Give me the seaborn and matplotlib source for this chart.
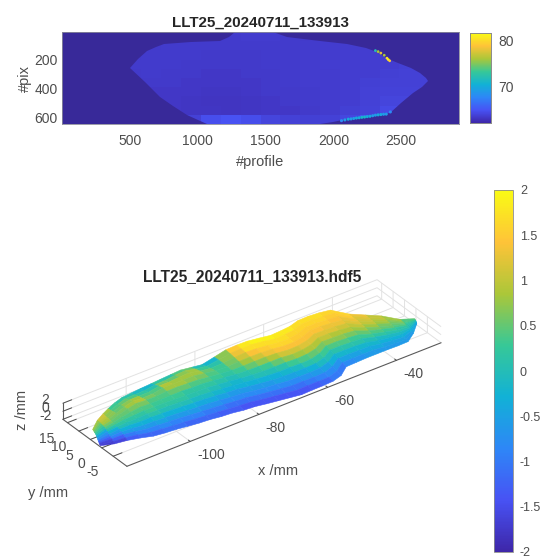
import numpy as np
import matplotlib
matplotlib.use("Agg")
import matplotlib.pyplot as plt
from matplotlib.colors import LinearSegmentedColormap, Normalize
from matplotlib.cm import ScalarMappable
from matplotlib.patches import Polygon
import seaborn as sns

# ---- top image: map of intensity against profile and pixel ----
title_top = "LLT25_20240711_133913"
title_3d = "LLT25_20240711_133913.hdf5"
profile_max = 2926
pix_max = 633
profile_ticks = [500, 1000, 1500, 2000, 2500]
pix_ticks = [200, 400, 600]
map_ticks = [70, 80]
map_range = [62.3, 81.5]
outline_profile = [500, 560, 627, 690, 750, 950, 1166, 1230, 1276, 1558, 1656, 1900, 2100, 2244, 2320, 2390,
                   2480, 2575, 2640, 2685, 2697, 2650, 2587, 2500, 2416, 2300, 2195, 2100, 1999, 1901,
                   1068, 1000, 921, 820, 725, 610]
outline_pix = [247, 185, 130, 105, 84, 72, 60, 32, 1, 1, 37, 60, 85, 107, 135, 177,
               210, 247, 285, 316, 340, 375, 421, 490, 560, 572, 584, 600, 618, 633,
               633, 605, 572, 510, 444, 345]
map_values = [
    [63.4, 63.4, 63.4, 63.4, 63.4, 63.4, 63.4, 63.5, 63.6, 63.7, 63.7, 63.6, 63.5, 63.5, 63.5, 63.5, 63.5, 63.5, 63.5, 63.5],
    [63.4, 63.4, 63.4, 63.4, 63.5, 63.6, 63.6, 63.6, 63.6, 63.6, 63.6, 63.6, 63.6, 63.7, 63.7, 63.7, 63.8, 63.8, 63.7, 63.5],
    [63.4, 63.4, 63.5, 63.5, 63.6, 63.6, 63.6, 63.5, 63.5, 63.5, 63.6, 63.6, 63.7, 63.7, 63.8, 63.8, 63.8, 63.8, 63.8, 63.5],
    [63.4, 63.4, 63.5, 63.6, 63.6, 63.6, 63.5, 63.5, 63.5, 63.5, 63.6, 63.6, 63.7, 63.8, 63.8, 63.8, 63.8, 63.9, 63.8, 63.5],
    [63.4, 63.4, 63.5, 63.5, 63.6, 63.5, 63.5, 63.4, 63.4, 63.5, 63.5, 63.6, 63.7, 63.7, 63.8, 63.8, 63.9, 64.0, 64.0, 63.5],
    [63.4, 63.4, 63.4, 63.5, 63.5, 63.5, 63.4, 63.4, 63.4, 63.4, 63.5, 63.6, 63.7, 63.7, 63.8, 63.9, 64.0, 64.0, 64.0, 63.5],
    [63.4, 63.4, 63.4, 63.4, 63.4, 63.4, 63.4, 63.3, 63.3, 63.4, 63.5, 63.5, 63.6, 63.7, 63.8, 64.0, 64.1, 64.1, 64.0, 63.5],
    [63.4, 63.4, 63.4, 63.4, 63.4, 63.4, 63.3, 63.2, 63.2, 63.3, 63.4, 63.5, 63.6, 63.7, 63.8, 64.0, 64.2, 64.2, 64.0, 63.5],
    [63.4, 63.4, 63.4, 63.4, 63.4, 63.4, 63.3, 63.3, 63.2, 63.3, 63.4, 63.4, 63.5, 63.7, 63.9, 64.1, 64.5, 65.0, 64.0, 63.5],
    [63.4, 63.4, 63.4, 63.4, 63.4, 63.5, 64.0, 64.8, 65.0, 64.7, 64.2, 64.0, 63.9, 64.0, 64.3, 65.0, 66.0, 66.0, 64.0, 63.5],
]
hot_profile = [2310, 2330, 2350, 2375, 2395, 2405, 2415]
hot_pix = [128, 135, 145, 160, 180, 190, 198]
hot_value = [72, 76, 78, 76, 80, 81, 79]
rim_profile = [2060, 2085, 2110, 2130, 2150, 2170, 2190, 2210, 2230, 2250, 2270, 2290, 2310, 2330, 2350, 2370, 2390, 2420]
rim_pix = [610, 605, 600, 598, 595, 592, 590, 587, 585, 582, 580, 576, 572, 570, 568, 566, 565, 550]
rim_value = [68, 69, 70, 69, 69, 70, 70, 71, 71, 70, 70, 69, 69, 70, 70, 69, 69, 68]

# ---- lower plot: 3-D surface ----
x_lim = [-118.4, -27]
y_lim = [-11, 17]
z_lim = [-2, 2]
x_ticks = [-100, -80, -60, -40]
y_ticks = [-5, 0, 5, 10, 15]
z_ticks = [-2, 0, 2]
bar_ticks = [-2, -1.5, -1, -0.5, 0, 0.5, 1, 1.5, 2]
bar_labels = ["-2", "-1.5", "-1", "-0.5", "0", "0.5", "1", "1.5", "2"]
x_stations = [-118.4, -115.4, -112.4, -109.4, -106.4, -103.4, -100.4, -97.4, -94.4, -91.4, -88.4,
              -85.4, -82.4, -79.4, -76.4, -73.4, -70.4, -67.4, -64.4, -61.4, -58.4, -55.4, -52.4,
              -49.4, -46.4, -43.4, -40.4, -37.4, -34.4, -31.4, -28.4]
y_near = [0.6, -1.0, -2.1, -3.3, -4.6, -5.3, -5.6, -6.0, -6.5, -6.8, -7.2, -7.5, -8.0, -8.3, -9.0,
          -9.6, -10.2, -10.8, -10.8, -10.9, -11.0, -10.0, -7.7, -7.7, -7.7, -7.7, -7.7, -7.8, -7.7,
          -5.5, -2.5]
y_far = [4.0, 6.5, 8.5, 10.8, 12.5, 13.8, 14.3, 14.6, 14.7, 15.0, 15.1, 15.2, 15.1, 14.8, 14.0,
         13.5, 13.2, 13.1, 12.5, 11.8, 12.0, 12.5, 13.5, 13.6, 13.3, 12.8, 9.0, 6.5, 4.0, 0.5, -1.5]
z_surface = [
    [-1.7, -1.6, -1.3, -1.0, -0.7, -0.4, 0.0, 0.2, 0.4, 0.5, 0.7, 0.8, 0.9],
    [-1.6, -1.3, -0.9, -0.6, -0.3, 0.1, 0.4, 0.6, 0.8, 0.9, 1.0, 1.1, 1.1],
    [-1.3, -1.0, -0.6, -0.3, 0.0, 0.2, 0.4, 0.5, 0.6, 0.7, 0.7, 0.8, 0.9],
    [-1.2, -0.9, -0.6, -0.3, 0.0, 0.2, 0.4, 0.5, 0.6, 0.5, 0.4, 0.3, 0.2],
    [-1.2, -0.9, -0.6, -0.3, 0.0, 0.2, 0.4, 0.6, 0.8, 0.7, 0.5, 0.2, -0.1],
    [-1.1, -0.8, -0.5, -0.2, 0.1, 0.3, 0.4, 0.6, 0.9, 0.8, 0.4, 0.1, -0.3],
    [-1.1, -0.9, -0.6, -0.3, 0.0, 0.2, 0.3, 0.4, 0.6, 0.4, 0.2, -0.1, -0.4],
    [-1.2, -0.9, -0.6, -0.3, 0.0, 0.2, 0.3, 0.4, 0.5, 0.4, 0.1, -0.2, -0.4],
    [-1.2, -0.9, -0.6, -0.3, 0.0, 0.2, 0.3, 0.5, 0.8, 0.9, 0.6, 0.2, -0.3],
    [-1.2, -1.0, -0.7, -0.4, -0.1, 0.1, 0.2, 0.5, 0.8, 0.8, 0.5, 0.1, -0.3],
    [-1.3, -1.0, -0.7, -0.4, -0.1, 0.1, 0.2, 0.4, 0.7, 0.8, 0.7, 0.4, -0.2],
    [-1.3, -1.1, -0.8, -0.5, -0.2, 0.0, 0.2, 0.4, 0.6, 0.8, 0.8, 0.5, -0.1],
    [-1.4, -1.1, -0.8, -0.6, -0.3, -0.1, 0.1, 0.3, 0.4, 0.5, 0.3, 0.0, -0.4],
    [-1.4, -1.1, -0.8, -0.6, -0.3, -0.2, 0.0, 0.2, 0.3, 0.3, 0.1, -0.2, -0.6],
    [-1.4, -1.1, -0.8, -0.6, -0.3, -0.1, 0.1, 0.3, 0.5, 0.6, 0.7, 0.7, 0.6],
    [-1.4, -1.1, -0.8, -0.6, -0.3, 0.0, 0.2, 0.5, 0.8, 1.1, 1.3, 1.5, 1.6],
    [-1.4, -1.1, -0.8, -0.5, -0.3, 0.0, 0.3, 0.7, 1.1, 1.4, 1.7, 1.8, 1.9],
    [-1.4, -1.1, -0.8, -0.5, -0.2, 0.1, 0.5, 0.9, 1.3, 1.5, 1.7, 1.9, 1.9],
    [-1.3, -1.0, -0.7, -0.4, -0.1, 0.3, 0.7, 1.1, 1.4, 1.6, 1.7, 1.9, 1.9],
    [-1.2, -0.9, -0.6, -0.3, 0.1, 0.4, 0.8, 1.1, 1.4, 1.6, 1.7, 1.8, 1.9],
    [-1.0, -0.8, -0.5, -0.1, 0.2, 0.5, 0.9, 1.2, 1.4, 1.5, 1.6, 1.8, 1.9],
    [-1.0, -0.7, -0.3, 0.0, 0.3, 0.6, 0.9, 1.2, 1.4, 1.5, 1.6, 1.7, 1.8],
    [-0.8, -0.5, -0.2, 0.1, 0.4, 0.7, 1.0, 1.2, 1.4, 1.5, 1.6, 1.7, 1.8],
    [-0.7, -0.5, -0.2, 0.1, 0.4, 0.7, 0.9, 1.2, 1.3, 1.5, 1.6, 1.7, 1.8],
    [-0.6, -0.4, -0.2, 0.1, 0.3, 0.6, 0.9, 1.1, 1.3, 1.4, 1.5, 1.6, 1.8],
    [-0.6, -0.4, -0.2, 0.0, 0.3, 0.5, 0.8, 1.0, 1.2, 1.3, 1.5, 1.6, 1.7],
    [-0.6, -0.5, -0.3, -0.1, 0.2, 0.4, 0.6, 0.8, 1.0, 1.1, 1.2, 1.3, 1.3],
    [-0.6, -0.5, -0.3, -0.1, 0.1, 0.3, 0.5, 0.6, 0.8, 0.9, 1.0, 1.0, 1.1],
    [-0.6, -0.5, -0.3, -0.1, 0.1, 0.2, 0.4, 0.5, 0.6, 0.7, 0.8, 0.8, 0.9],
    [-0.5, -0.4, -0.3, -0.1, 0.0, 0.1, 0.2, 0.3, 0.4, 0.4, 0.4, 0.5, 0.5],
    [-0.3, -0.2, -0.1, 0.0, 0.1, 0.2, 0.2, 0.3, 0.3, 0.4, 0.4, 0.4, 0.5],
]

# ---- styling ----
W, H, DPI = 546, 558, 100
TXT = "#4d4d4d"
sns.set_theme(style="white")
plt.rcParams["font.family"] = ["Liberation Sans", "DejaVu Sans"]
plt.rcParams["font.size"] = 10
plt.rcParams["text.color"] = TXT
plt.rcParams["axes.labelcolor"] = TXT
plt.rcParams["xtick.color"] = TXT
plt.rcParams["ytick.color"] = TXT

parula = LinearSegmentedColormap.from_list("parula", [
    (0.2422, 0.1504, 0.6603), (0.2810, 0.3228, 0.9579), (0.1786, 0.5289, 0.9682),
    (0.0689, 0.6948, 0.8394), (0.2161, 0.7843, 0.5923), (0.6720, 0.7793, 0.2227),
    (0.9970, 0.7659, 0.2199), (0.9769, 0.9839, 0.0805)])


def rect(x0, y0, x1, y1):
    return [x0 / W, 1 - y1 / H, (x1 - x0) / W, (y1 - y0) / H]


fig = plt.figure(figsize=(W / DPI, H / DPI), dpi=DPI)

# top map
ax = fig.add_axes(rect(62, 32, 459, 124))
cax = fig.add_axes(rect(470, 33, 491, 123))
n_rows, n_cols = np.shape(map_values)
sx = n_cols / profile_max
sy = n_rows / pix_max
sns.heatmap(np.array(map_values), ax=ax, cbar_ax=cax, cmap=parula,
            vmin=map_range[0], vmax=map_range[1], cbar_kws={"ticks": map_ticks})
ax.set_facecolor((0.22, 0.16, 0.60))
poly = Polygon(np.column_stack([np.array(outline_profile) * sx, np.array(outline_pix) * sy]),
               transform=ax.transData, fc="none", ec="none")
ax.add_patch(poly)
ax.collections[0].set_clip_path(poly)
ax.scatter(np.array(hot_profile) * sx, np.array(hot_pix) * sy, c=hot_value, cmap=parula,
           vmin=map_range[0], vmax=map_range[1], s=4, linewidths=0, clip_on=True)
ax.scatter(np.array(rim_profile) * sx, np.array(rim_pix) * sy, c=rim_value, cmap=parula,
           vmin=map_range[0], vmax=map_range[1], s=5, linewidths=0, clip_on=True)
ax.set_xticks(np.array(profile_ticks) * sx)
ax.set_xticklabels(profile_ticks, rotation=0)
ax.set_yticks(np.array(pix_ticks) * sy)
ax.set_yticklabels(pix_ticks, rotation=0)
ax.tick_params(length=0, labelsize=10, pad=3)
ax.tick_params(axis="x", pad=7)
ax.set_xlabel("#profile", fontsize=10.5, labelpad=5)
ax.set_ylabel("#pix", fontsize=10.5, labelpad=2)
ax.set_title(title_top, fontsize=10.9, fontweight="bold", color="#262626", pad=4)
for s in ax.spines.values():
    s.set_visible(True)
    s.set_color("#8a8a9a")
    s.set_linewidth(0.6)
cax.tick_params(length=0, labelsize=10, pad=5)
for s in cax.spines.values():
    s.set_visible(True)
    s.set_color("#8a8a8a")
    s.set_linewidth(0.6)

# 3-D surface
S = 407
cx3, cy3 = 252, 373
left = cx3 - 0.5135 * S
top = cy3 - (1 - 0.5135) * S
ax3 = fig.add_axes(rect(left, top, left + S, top + S), projection="3d", computed_zorder=True)
ax3.patch.set_alpha(0)
ax3.set_proj_type("ortho")
ax3.view_init(elev=32.5, azim=-126.2)
ax3.set_box_aspect((388, 108, 19), zoom=0.965)
ax3.set_xlim(*x_lim, view_margin=0)
ax3.set_ylim(*y_lim, view_margin=0)
ax3.set_zlim(*z_lim, view_margin=0)

norm = Normalize(-2, 2)
Z = np.array(z_surface)
n_across = Z.shape[1]
fracs = np.arange(n_across) / (n_across - 1)
X = np.repeat(np.array(x_stations)[:, None], n_across, axis=1)
Y = np.array(y_near)[:, None] + np.outer(np.array(y_far) - np.array(y_near), fracs)
ax3.plot_surface(X, Y, Z, facecolors=parula(norm(Z)), rstride=1, cstride=1, shade=False,
                 linewidth=0.4, antialiased=True)

ax3.set_xticks(x_ticks)
ax3.set_yticks(y_ticks)
ax3.set_zticks(z_ticks)
ax3.set_xticklabels([str(v) for v in x_ticks], ha="left", va="top")
ax3.set_yticklabels([str(v) for v in y_ticks], va="top")
ax3.set_zticklabels([str(v) for v in z_ticks], va="bottom")
for a in (ax3.xaxis, ax3.yaxis, ax3.zaxis):
    a.set_pane_color((1, 1, 1, 0))
    a.pane.set_edgecolor((0.88, 0.88, 0.88, 1))
    a.line.set_color("#5a5a5a")
    a.line.set_linewidth(0.8)
    a._axinfo["grid"].update(color="#e2e2e2", linewidth=0.7)
    a._axinfo["tick"].update(inward_factor=0.0, outward_factor=0.35, linewidth={True: 0.7, False: 0.5}, color="#5a5a5a")
ax3.tick_params(labelsize=10)
ax3.tick_params(axis="x", pad=8)
ax3.tick_params(axis="y", pad=2)
ax3.tick_params(axis="z", pad=-1)

fig.text(252 / W, 1 - 277 / H, title_3d, ha="center", va="center", fontsize=11.2, fontweight="bold", color="#262626")
fig.text(278 / W, 1 - 471 / H, "x /mm", ha="center", va="center", fontsize=10.5)
fig.text(48 / W, 1 - 493 / H, "y /mm", ha="center", va="center", fontsize=10.5)
fig.text(22 / W, 1 - 410 / H, "z /mm", ha="center", va="center", rotation=90, fontsize=10.5)

# lower colour bar
cb3 = fig.add_axes(rect(494, 190, 513, 552))
bar = fig.colorbar(ScalarMappable(norm=norm, cmap=parula), cax=cb3, ticks=bar_ticks)
bar.ax.set_yticklabels(bar_labels)
cb3.tick_params(length=0, labelsize=9, pad=5)
bar.outline.set_edgecolor("#8a8a8a")
bar.outline.set_linewidth(0.6)

fig.savefig("out.png", dpi=DPI)
